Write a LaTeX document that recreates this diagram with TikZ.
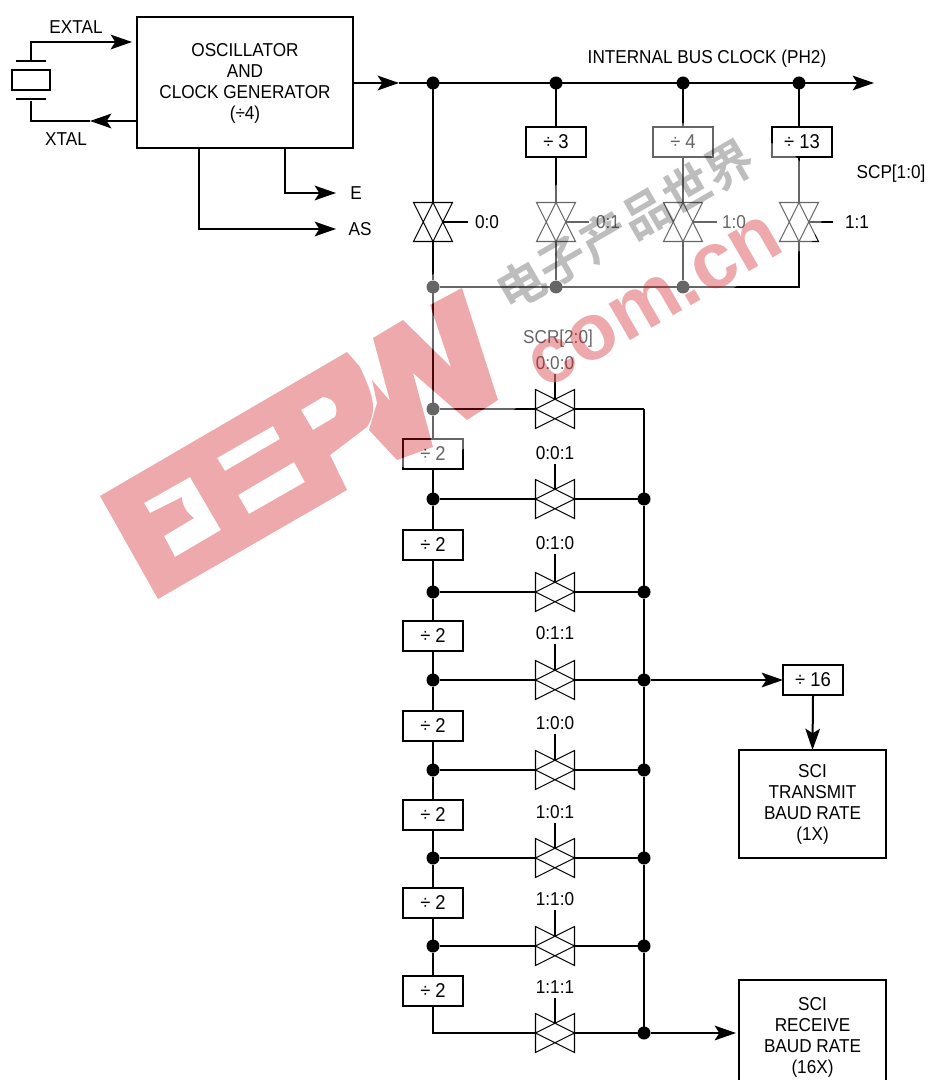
\documentclass[tikz,border=0pt]{standalone}
\usepackage{fontspec}
\setmainfont{Liberation Sans}[FakeStretch=0.92]
\newfontfamily\wmfont{Liberation Sans}[BoldFont=* Bold]
\newfontfamily\cjkwm{Noto Sans CJK SC}[BoldFont=* Bold]
\usetikzlibrary{arrows.meta}
\definecolor{wmred}{RGB}{205,17,25}
\tikzset{
  x=.75pt,y=-.75pt,
  every node/.style={font=\fontsize{14pt}{15.75pt}\selectfont,inner sep=0pt,outer sep=0pt,align=center},
  wire/.style={line width=1.5pt},
  sig/.style={wire,-{Stealth[length=16pt,width=11pt,inset=3.5pt]}},
  divbox/.style={draw,line width=1.5pt,minimum width=45pt,minimum height=23pt,font=\fontsize{15pt}{15.75pt}\selectfont},
  bigbox/.style={draw,line width=1.5pt},
  valvenode/.style={minimum width=29.25pt,minimum height=29.25pt},
  valveline/.style={line width=.8pt},
  ctrl/.style={line width=1.1pt},
  dot/.style={circle,fill=black,minimum size=9.75pt},
}
\newcommand{\vvalve}[1]{\draw[valveline] (#1.north west)--(#1.north east)--(#1.south)--cycle (#1.south west)--(#1.south east)--(#1.north)--cycle;}
\newcommand{\hvalve}[1]{\draw[valveline] (#1.north west)--(#1.south west)--(#1.east)--cycle (#1.north east)--(#1.south east)--(#1.west)--cycle;}
\newcommand{\npath}{(373,338)--(403,320)--(451,367)--(430,305)--(462,288)--(498,400)--(467,420)--(413,373)--(433,447)--(397,460)--(369,430)--(377,403)--(372,380)--(390,401)--cycle}
\begin{document}
\begin{tikzpicture}
\useasboundingbox (0,0) rectangle (927,1080);
% oscillator
\node[bigbox,minimum width=162pt,minimum height=98.25pt] (osc) at (245,83) {OSCILLATOR\\AND\\CLOCK GENERATOR\\(÷4)};
\node[minimum width=28.5pt,minimum height=15pt,draw,line width=1.5pt] (xtl) at (31,80) {};
\coordinate (pt) at (31,61); \coordinate (pb) at (31,101);
\coordinate (ptl) at (16,61); \coordinate (ptr) at (46,61);
\coordinate (pbl) at (16,99); \coordinate (pbr) at (46,99);
\draw[wire] (ptl)--(ptr) (pbl)--(pbr);
\coordinate (ex1) at (31,42); \coordinate (ex2) at (132,42);
\draw[sig] (pt)--(ex1)--(ex2);
\coordinate (xt1) at (137,121); \coordinate (xt2) at (90,121); \coordinate (xt3) at (31,121);
\draw[sig] (xt1)--(xt2);
\draw[wire] (xt2)--(xt3)--(pb);
\node (extal) at (76,27) {EXTAL};
\node (xtal) at (66,139) {XTAL};
% E, AS
\node (E) at (356,193) {E};
\node (AS) at (360,229) {AS};
\coordinate (e0) at (285,149); \coordinate (e1) at (285,193); \coordinate (e2) at (336,193);
\coordinate (a0) at (199,149); \coordinate (a1) at (199,229); \coordinate (a2) at (336,229);
\draw[sig] (e0)--(e1)--(e2);
\draw[sig] (a0)--(a1)--(a2);
% internal bus
\coordinate (bm) at (399,83); \coordinate (bend) at (874,83);
\draw[sig] (osc.east)--(bm);
\draw[sig] (bm)--(bend);
\node (ibc) at (707,59) {INTERNAL BUS CLOCK (PH2)};
\node[dot] (b0) at (433,83) {};
\node[dot] (b1) at (556,83) {};
\node[dot] (b2) at (683,83) {};
\node[dot] (b3) at (799,83) {};
% dividers
\node[divbox] (d3) at (556,142) {÷ 3};
\node[divbox] (d4) at (683,142) {÷ 4};
\node[divbox] (d13) at (802,142) {÷ 13};
\node (scp) at (891,174) {SCP[1:0]};
% prescaler valves
\node[valvenode] (v0) at (433,222) {}; \vvalve{v0}
\node[valvenode] (v1) at (556,222) {}; \vvalve{v1}
\node[valvenode] (v2) at (683,222) {}; \vvalve{v2}
\node[valvenode] (v3) at (799,222) {}; \vvalve{v3}
\foreach \n/\xa/\xb/\xc/\t in {v0/443/468/487/0:0,v1/566/589/608/0:1,v2/693/717/734/1:0,v3/809/833/857/1:1}{
  \coordinate (c\n a) at (\xa,222); \coordinate (c\n b) at (\xb,222);
  \draw[ctrl] (c\n a)--(c\n b);
  \node (l\n) at (\xc,222) {\t};
}
\draw[wire] (b0)--(v0.north);
\draw[wire] (b1)--(d3.north) (d3.south)--(v1.north);
\draw[wire] (b2)--(d4.north) (d4.south)--(v2.north);
\draw[wire] (b3)--(b3|-d13.north) (b3|-d13.south)--(v3.north);
\node[dot] (n0) at (433,287) {};
\node[dot] (n1) at (556,287) {};
\node[dot] (n2) at (683,287) {};
\coordinate (n3) at (799,287);
\draw[wire] (v0.south)--(n0);
\draw[wire] (v1.south)--(n1);
\draw[wire] (v2.south)--(n2);
\draw[wire] (v3.south)--(n3)--(n0);
% SCR chain
\node (scr) at (558,339) {SCR[2:0]};
\foreach \i/\yv/\yl/\t in {1/409/363/0:0:0,2/499/453/0:0:1,3/592/543/0:1:0,4/680/633/0:1:1,5/770/723/1:0:0,6/858/812/1:0:1,7/946/899/1:1:0,8/1033/987/1:1:1}{
  \node[valvenode] (h\i) at (555,\yv) {}; \hvalve{h\i}
  \node (t\i) at (555,\yl) {\t};
  \coordinate (k\i a) at (555,\yl+11); \coordinate (k\i b) at (555,\yv-10);
  \draw[ctrl] (k\i a)--(k\i b);
}
\coordinate (r1) at (644,409);
\foreach \i/\yv in {2/499,3/592,4/680,5/770,6/858,7/946,8/1033}{
  \node[dot] (r\i) at (644,\yv) {};
}
\foreach \i in {1,...,8}{ \draw[wire] (h\i.east)--(r\i); }
\foreach \i/\yv in {1/409,2/499,3/592,4/680,5/770,6/858,7/946}{
  \node[dot] (q\i) at (433,\yv) {};
  \draw[wire] (q\i)--(h\i.west);
}
\foreach \i/\yb in {1/454,2/545,3/636,4/726,5/815,6/903,7/991}{
  \node[divbox] (p\i) at (433,\yb) {÷ 2};
}
\draw[wire] (n0)--(q1) (q1)--(p1);
\draw[wire] (p1)--(q2) (q2)--(p2) (p2)--(q3) (q3)--(p3) (p3)--(q4) (q4)--(p4) (p4)--(q5) (q5)--(p5) (p5)--(q6) (q6)--(p6) (p6)--(q7) (q7)--(p7);
\coordinate (q8) at (433,1033);
\draw[wire] (p7.south)--(q8)--(h8.west);
% collector
\draw[wire] (r1)--(r2) (r2)--(r3) (r3)--(r4) (r4)--(r5) (r5)--(r6) (r6)--(r7) (r7)--(r8);
% outputs
\node[divbox] (d16) at (813,680) {÷ 16};
\node[bigbox,minimum width=110pt,minimum height=81pt] (tx) at (812.5,804) {SCI\\TRANSMIT\\BAUD RATE\\(1X)};
\node[bigbox,minimum width=110pt,minimum height=85pt] (rx) at (812.5,1037) {SCI\\RECEIVE\\BAUD RATE\\(16X)};
\draw[sig] (r4)--(d16.west);
\draw[sig] (d16.south)--(tx.north);
\coordinate (rxin) at (736,1033);
\draw[sig] (r8)--(rxin);
% watermark: pale halo, left out inside the N
\begin{scope}[even odd rule]
\clip (0,0) rectangle (927,1080) \npath;
\fill[white,opacity=.4] (395,467)--(395,285)--(428,278)--(535,200)--(650,120)--(730,128)--(790,150)--(832,200)--(810,245)--(730,290)--(580,375)--(535,388)--(520,405)--(440,467)--cycle;
\end{scope}
\fill[wmred,opacity=.36,even odd rule]
  (100,496)--(347,352)--(360,367) .. controls (373,395) and (378,410) .. (367,427)--(330,455)--(347,490)--(158,599)--cycle
  (144,503)--(190,477)--(221,530)--(175,557)--(164,536)--(194,518) .. controls (186,512) and (182,505) .. (182,497)--(150,513)--cycle
  (217,458)--(273,426)--(280,439)--(225,471)--cycle
  (238,495)--(294,462)--(305,482)--(249,514)--cycle
  (301,410)--(323,397) .. controls (335,398) and (339,408) .. (335,417)--(313,430)--cycle;
\fill[wmred,opacity=.36] \npath;
\node[rotate=30,text=wmred,text opacity=.36,font=\fontsize{60pt}{60pt}\wmfont\bfseries] (wcom) at (655,302) {com.cn};
\node[rotate=30,text=black,text opacity=.26,font=\fontsize{36pt}{36pt}\cjkwm\bfseries] (wcn) at (625,225) {电子产品世界};
\end{tikzpicture}
\end{document}
